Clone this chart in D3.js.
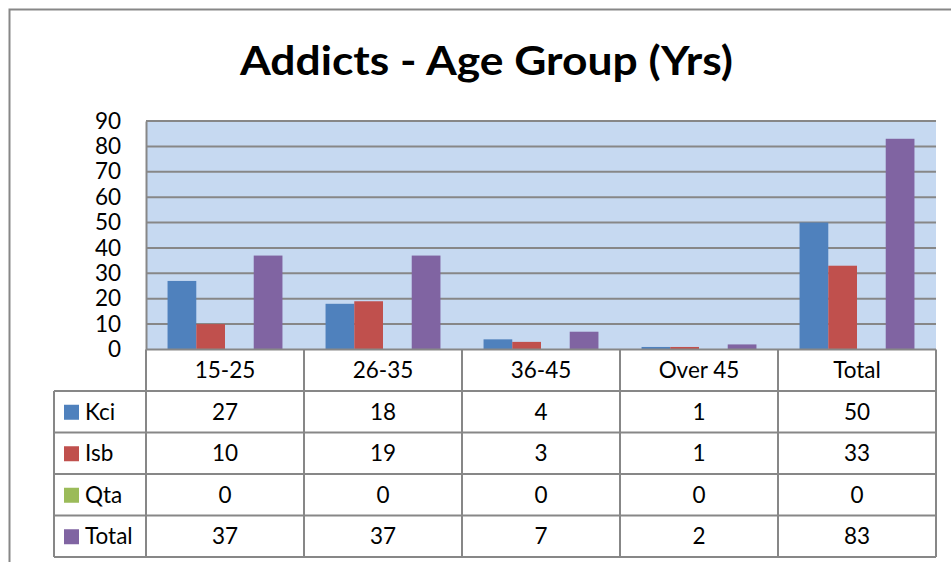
<!DOCTYPE html>
<html>
<head>
<meta charset="utf-8">
<script src="https://cdn.jsdelivr.net/npm/d3@7"></script>
<style>
  body { margin: 0; background: #fff; }
  svg { display: block; }
  text { font-family: Lato, "Open Sans", sans-serif; fill: #000; }
</style>
</head>
<body>
<script>
// data
const categories = ["15-25", "26-35", "36-45", "Over 45", "Total"];
const seriesNames = ["Kci", "Isb", "Qta", "Total"];
const kci = [27, 18, 4, 1, 50];
const isb = [10, 19, 3, 1, 33];
const qta = [0, 0, 0, 0, 0];
const total = [37, 37, 7, 2, 83];
const yTicks = [0, 10, 20, 30, 40, 50, 60, 70, 80, 90];
const colors = ["#4F81BD", "#C0504D", "#9BBB59", "#8064A2"];

const seriesValues = [kci, isb, qta, total];

const width = 951, height = 562;
const plot = { left: 146, right: 936, top: 121, bottom: 349.5 };
const gridColor = "#878787";
const fontSize = "22.5px";

const svg = d3.select("body").append("svg")
  .attr("width", width)
  .attr("height", height);

// outer chart frame (runs off the right and bottom edge)
svg.append("rect")
  .attr("x", 9.5).attr("y", 9.5)
  .attr("width", 1000).attr("height", 600)
  .attr("fill", "#fff")
  .attr("stroke", gridColor)
  .attr("stroke-width", 2);

// title
svg.append("text")
  .attr("x", 486.5).attr("y", 75)
  .attr("text-anchor", "middle")
  .attr("textLength", 493)
  .attr("lengthAdjust", "spacingAndGlyphs")
  .style("font-size", "41px")
  .style("font-weight", "bold")
  .text("Addicts - Age Group (Yrs)");

const x = d3.scaleBand()
  .domain(categories)
  .range([plot.left, plot.right]);

const xInner = d3.scaleBand()
  .domain(seriesNames)
  .range([0, x.bandwidth()])
  .paddingOuter(0.75);

const y = d3.scaleLinear()
  .domain([0, 90])
  .range([plot.bottom, plot.top]);

// plot background
svg.append("rect")
  .attr("x", plot.left).attr("y", plot.top)
  .attr("width", plot.right - plot.left)
  .attr("height", plot.bottom - plot.top)
  .attr("fill", "#C6D9F1");

// gridlines
svg.append("g")
  .selectAll("line")
  .data(yTicks.filter(d => d > 0))
  .join("line")
  .attr("x1", plot.left).attr("x2", plot.right)
  .attr("y1", d => y(d)).attr("y2", d => y(d))
  .attr("stroke", gridColor)
  .attr("stroke-width", 2);

// y axis
const yAxis = svg.append("g")
  .attr("transform", `translate(${plot.left},0)`)
  .call(d3.axisLeft(y).tickValues(yTicks).tickSize(0).tickPadding(25));
yAxis.select(".domain").attr("stroke", gridColor).attr("stroke-width", 2);
yAxis.selectAll("text")
  .style("font-family", "Lato, 'Open Sans', sans-serif")
  .style("font-size", fontSize);

// bars
const barData = [];
categories.forEach((c, i) => {
  seriesNames.forEach((s, j) => {
    barData.push({ cat: c, series: s, value: seriesValues[j][i], color: colors[j] });
  });
});

svg.append("g")
  .selectAll("rect")
  .data(barData)
  .join("rect")
  .attr("x", d => x(d.cat) + xInner(d.series))
  .attr("y", d => y(d.value))
  .attr("width", xInner.bandwidth())
  .attr("height", d => y(0) - y(d.value))
  .attr("fill", d => d.color);

// data table under the plot
const rows = d3.scaleBand()
  .domain(["header", ...seriesNames.map((s, i) => "row" + i)])
  .range([plot.bottom, 557]);
const tableLeft = 54;

const table = svg.append("g");

// horizontal lines
table.append("line")
  .attr("x1", plot.left).attr("x2", plot.right)
  .attr("y1", plot.bottom).attr("y2", plot.bottom)
  .attr("stroke", gridColor).attr("stroke-width", 2);
table.selectAll("line.h")
  .data(seriesNames.map((s, i) => "row" + i))
  .join("line")
  .attr("class", "h")
  .attr("x1", tableLeft).attr("x2", plot.right)
  .attr("y1", d => rows(d)).attr("y2", d => rows(d))
  .attr("stroke", gridColor).attr("stroke-width", 2);
table.append("line")
  .attr("x1", tableLeft).attr("x2", plot.right)
  .attr("y1", 557).attr("y2", 557)
  .attr("stroke", gridColor).attr("stroke-width", 2);

// vertical lines
table.append("line")
  .attr("x1", tableLeft).attr("x2", tableLeft)
  .attr("y1", rows("row0")).attr("y2", 557)
  .attr("stroke", gridColor).attr("stroke-width", 2);
table.selectAll("line.v")
  .data([...categories.map(c => x(c)), plot.right])
  .join("line")
  .attr("class", "v")
  .attr("x1", d => d).attr("x2", d => d)
  .attr("y1", plot.bottom).attr("y2", 557)
  .attr("stroke", gridColor).attr("stroke-width", 2);

// header labels
table.selectAll("text.head")
  .data(categories)
  .join("text")
  .attr("class", "head")
  .attr("x", d => x(d) + x.bandwidth() / 2)
  .attr("y", rows("header") + rows.bandwidth() / 2)
  .attr("dy", "0.36em")
  .attr("text-anchor", "middle")
  .style("font-size", fontSize)
  .text(d => d);

// legend keys + values per row
seriesNames.forEach((s, j) => {
  const ry = rows("row" + j);
  const cy = ry + rows.bandwidth() / 2;
  table.append("rect")
    .attr("x", 64).attr("y", cy - 7)
    .attr("width", 15).attr("height", 15)
    .attr("fill", colors[j]);
  table.append("text")
    .attr("x", 85).attr("y", cy)
    .attr("dy", "0.36em")
    .style("font-size", fontSize)
    .text(s);
  table.selectAll(null)
    .data(seriesValues[j])
    .join("text")
    .attr("x", (d, i) => x(categories[i]) + x.bandwidth() / 2)
    .attr("y", cy)
    .attr("dy", "0.36em")
    .attr("text-anchor", "middle")
    .style("font-size", fontSize)
    .text(d => d);
});
</script>
</body>
</html>
